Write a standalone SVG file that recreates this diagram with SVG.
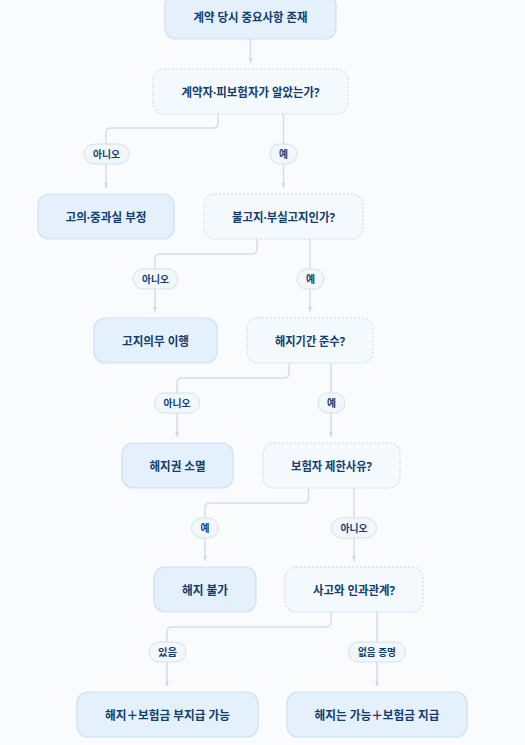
<svg xmlns="http://www.w3.org/2000/svg" width="525" height="745" viewBox="0 0 525 745">
<defs>
<style>
.bg{fill:#fafbfc}
.solid{fill:#e4f1fd;stroke:#cfe0f1;stroke-width:1.2}
.dec{fill:#f4f9fe;stroke:#d6e2ee;stroke-width:1.5;stroke-dasharray:2 2}
.t{font-family:"Noto Sans","Noto Sans CJK KR",sans-serif;font-weight:700;fill:#123d6c;text-anchor:middle;dominant-baseline:central;font-size:12.5px}
.pill{fill:#f2f7fc;stroke:#d3e1ee;stroke-width:1}
.pt{font-family:"Noto Sans","Noto Sans CJK KR",sans-serif;font-weight:700;fill:#123d6c;text-anchor:middle;dominant-baseline:central;font-size:10px}
.ln{fill:none;stroke:#d5dee8;stroke-width:1.5}
</style>
<marker id="ah" viewBox="0 0 10 10" refX="10" refY="5" markerWidth="5" markerHeight="5" orient="auto" markerUnits="userSpaceOnUse">
<path d="M0 1 L10 5 L0 9 Z" fill="#d0dae5"/>
</marker>
</defs>
<rect class="bg" x="0" y="0" width="525" height="745"/>

<g id="connectors">
<path class="ln" marker-end="url(#ah)" d="M250.5 39 V63"/>
<path class="ln" marker-end="url(#ah)" d="M218 114 V123 Q218 128 213 128 H111 Q106 128 106 133 V188"/>
<path class="ln" marker-end="url(#ah)" d="M283.5 114 V188"/>
<path class="ln" marker-end="url(#ah)" d="M257 239 V249 Q257 254 252 254 H160 Q155 254 155 259 V312"/>
<path class="ln" marker-end="url(#ah)" d="M310 239 V312"/>
<path class="ln" marker-end="url(#ah)" d="M289 363 V373 Q289 378 284 378 H182 Q177 378 177 383 V437"/>
<path class="ln" marker-end="url(#ah)" d="M331 363 V437"/>
<path class="ln" marker-end="url(#ah)" d="M308.5 488 V498 Q308.5 503 303.5 503 H210 Q205 503 205 508 V561"/>
<path class="ln" marker-end="url(#ah)" d="M354 488 V561"/>
<path class="ln" marker-end="url(#ah)" d="M331 612 V622 Q331 627 326 627 H172 Q167 627 167 632 V686"/>
<path class="ln" marker-end="url(#ah)" d="M377 612 V686"/>
<g id="edge-labels">
<rect class="pill" x="84" y="144" width="45" height="20" rx="10"/><text class="pt" x="106.5" y="154" textLength="27" lengthAdjust="spacingAndGlyphs">아니오</text>
<rect class="pill" x="270" y="144" width="27" height="20" rx="10"/><text class="pt" x="283.5" y="154" textLength="9" lengthAdjust="spacingAndGlyphs">예</text>
<rect class="pill" x="133" y="269" width="45" height="20" rx="10"/><text class="pt" x="155.5" y="279" textLength="27" lengthAdjust="spacingAndGlyphs">아니오</text>
<rect class="pill" x="297" y="269" width="27" height="20" rx="10"/><text class="pt" x="310.5" y="279" textLength="9" lengthAdjust="spacingAndGlyphs">예</text>
<rect class="pill" x="154.5" y="393" width="45" height="20" rx="10"/><text class="pt" x="177" y="403" textLength="27" lengthAdjust="spacingAndGlyphs">아니오</text>
<rect class="pill" x="318" y="393" width="27" height="20" rx="10"/><text class="pt" x="331.5" y="403" textLength="9" lengthAdjust="spacingAndGlyphs">예</text>
<rect class="pill" x="191.5" y="518" width="27" height="20" rx="10"/><text class="pt" x="205" y="528" textLength="9" lengthAdjust="spacingAndGlyphs">예</text>
<rect class="pill" x="331.5" y="518" width="45" height="20" rx="10"/><text class="pt" x="354" y="528" textLength="27" lengthAdjust="spacingAndGlyphs">아니오</text>
<rect class="pill" x="149" y="642" width="37" height="20" rx="10"/><text class="pt" x="167.5" y="652" textLength="19" lengthAdjust="spacingAndGlyphs">있음</text>
<rect class="pill" x="348.5" y="642" width="57" height="20" rx="10"/><text class="pt" x="377" y="652" textLength="38" lengthAdjust="spacingAndGlyphs">없음 증명</text>
</g>
</g>

<g id="n1"><rect class="solid" x="165" y="-6" width="171" height="45" rx="11"/><text class="t" x="250.5" y="17" textLength="114" lengthAdjust="spacingAndGlyphs">계약 당시 중요사항 존재</text></g>
<g id="n2"><rect class="dec" x="153" y="69" width="195" height="45" rx="11"/><text class="t" x="250.5" y="92" textLength="138" lengthAdjust="spacingAndGlyphs">계약자·피보험자가 알았는가?</text></g>
<g id="n3"><rect class="solid" x="38" y="194" width="136" height="45" rx="11"/><text class="t" x="106" y="217" textLength="81" lengthAdjust="spacingAndGlyphs">고의·중과실 부정</text></g>
<g id="n4"><rect class="dec" x="204" y="194" width="159" height="45" rx="11"/><text class="t" x="283.5" y="217" textLength="103" lengthAdjust="spacingAndGlyphs">불고지·부실고지인가?</text></g>
<g id="n5"><rect class="solid" x="94" y="318" width="123" height="45" rx="11"/><text class="t" x="155.5" y="341" textLength="67" lengthAdjust="spacingAndGlyphs">고지의무 이행</text></g>
<g id="n6"><rect class="dec" x="247" y="318" width="126" height="45" rx="11"/><text class="t" x="310" y="341" textLength="70" lengthAdjust="spacingAndGlyphs">해지기간 준수?</text></g>
<g id="n7"><rect class="solid" x="122" y="443" width="111" height="45" rx="11"/><text class="t" x="177.5" y="466" textLength="56" lengthAdjust="spacingAndGlyphs">해지권 소멸</text></g>
<g id="n8"><rect class="dec" x="263" y="443" width="137" height="45" rx="11"/><text class="t" x="331.5" y="466" textLength="81" lengthAdjust="spacingAndGlyphs">보험자 제한사유?</text></g>
<g id="n9"><rect class="solid" x="154" y="567" width="102" height="45" rx="11"/><text class="t" x="205" y="590" textLength="46" lengthAdjust="spacingAndGlyphs">해지 불가</text></g>
<g id="n10"><rect class="dec" x="285" y="567" width="138" height="45" rx="11"/><text class="t" x="354" y="590" textLength="82" lengthAdjust="spacingAndGlyphs">사고와 인과관계?</text></g>
<g id="n11"><rect class="solid" x="77" y="692" width="181" height="45" rx="11"/><text class="t" x="167.5" y="715" textLength="125" lengthAdjust="spacingAndGlyphs">해지＋보험금 부지급 가능</text></g>
<g id="n12"><rect class="solid" x="287" y="692" width="180" height="45" rx="11"/><text class="t" x="377" y="715" textLength="125" lengthAdjust="spacingAndGlyphs">해지는 가능＋보험금 지급</text></g>
</svg>
